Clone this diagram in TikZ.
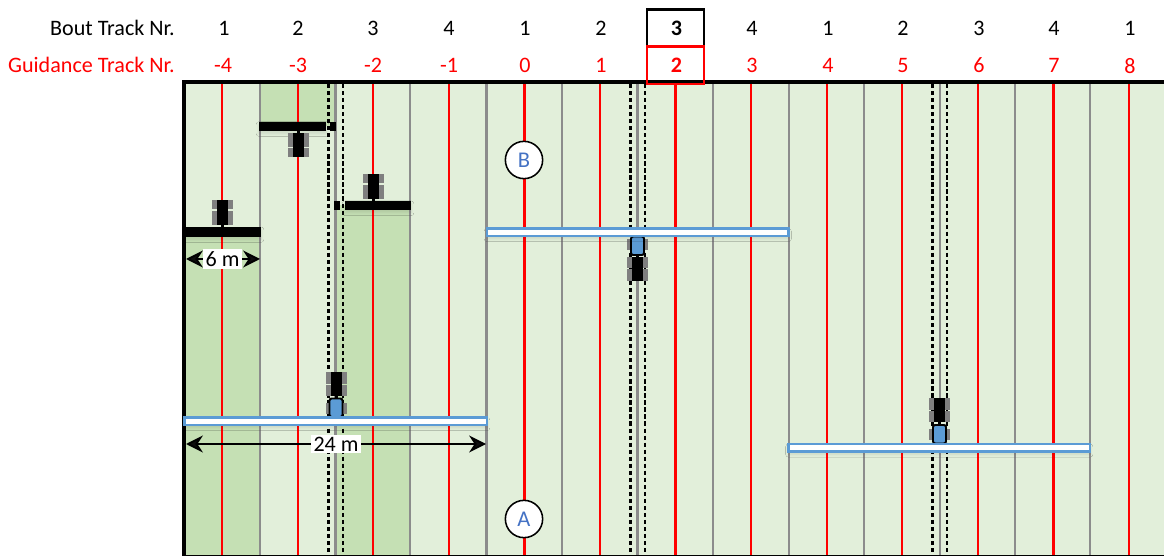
\documentclass[tikz,border=0pt]{standalone}
\usepackage{fontspec}
\setmainfont{Carlito}
\usepackage{tikz}
\usetikzlibrary{arrows.meta}
\usetikzlibrary{shadows.blur}

\definecolor{fieldlight}{HTML}{E2EFDA}
\definecolor{fielddark}{HTML}{C5E0B4}
\definecolor{boomblue}{HTML}{5B9BD5}
\definecolor{wheelgrey}{HTML}{7F7F7F}
\definecolor{linegrey}{HTML}{8C8C8C}
\definecolor{letterblue}{HTML}{4472C4}

\tikzset{
    boutlabel/.style={font=\fontsize{15.7}{17}\selectfont, text=black, inner sep=0pt},
    guidelabel/.style={font=\fontsize{15.7}{17}\selectfont, text=red, inner sep=0pt},
    boundary/.style={draw=linegrey, line width=1.5pt},
    guideline/.style={draw=red, line width=1.7pt},
    overlap/.style={draw=black, line width=1.9pt, dash pattern=on 3pt off 2pt},
    blackboom/.style={fill=black},
    whiteboom/.style={draw=boomblue, fill=white, line width=1.5pt},
    boomglow/.style={blur shadow={shadow xshift=0pt, shadow yshift=-2pt, shadow blur steps=6, shadow blur radius=2pt, shadow opacity=10}},
    dimarrow/.style={{Stealth[length=12pt,width=12pt]}-{Stealth[length=12pt,width=12pt]}, line width=1.3pt},
    dimlabel/.style={fill=white, inner sep=1.5pt, font=\fontsize{15.7}{17}\selectfont},
    abpoint/.style={draw=black, fill=white, circle, line width=1.1pt, minimum size=26.5pt, inner sep=0pt, text=letterblue, font=\fontsize{16}{18}\selectfont},
    tractor/.pic={
        \fill[black] (-1.5,0) rectangle (1.5,2);
        \fill[wheelgrey] (-10.5,2) rectangle (-5,16);
        \fill[wheelgrey] (5,2) rectangle (10.5,16);
        \fill[wheelgrey] (-10.5,17.5) rectangle (-5,26.5);
        \fill[wheelgrey] (5,17.5) rectangle (10.5,26.5);
        \fill[black] (-5.5,2) rectangle (5.5,26.5);
    },
    bluetractor/.pic={
        \fill[wheelgrey] (-10.5,3) rectangle (10.5,14);
        \filldraw[draw=black, fill=boomblue, line width=1.4pt, rounded corners=1.5pt] (-6.5,0) rectangle (6.5,18.5);
        \fill[black] (-1.5,18.5) rectangle (1.5,21);
        \fill[wheelgrey] (-10.5,21) rectangle (-5,32);
        \fill[wheelgrey] (5,21) rectangle (10.5,32);
        \fill[wheelgrey] (-10.5,33) rectangle (-5,45);
        \fill[wheelgrey] (5,33) rectangle (10.5,45);
        \fill[black] (-5.5,21) rectangle (5.5,45);
    },
}

\begin{document}
\begin{tikzpicture}[x=0.025cm, y=-0.025cm]
        \useasboundingbox (0,0) rectangle (1164,556);

        % field and worked strips
        \fill[fieldlight] (184,82) rectangle (1164,556);
        \fill[fielddark] (184,232) rectangle (260,556);
        \fill[fielddark] (260,82) rectangle (335.5,126);
        \fill[fielddark] (335.5,205) rectangle (410,556);

        % track boundaries
        \draw[boundary] (260,82) -- (260,556);
        \draw[boundary] (335.5,82) -- (335.5,556);
        \draw[boundary] (410,82) -- (410,556);
        \draw[boundary] (486.5,82) -- (486.5,556);
        \draw[boundary] (562,82) -- (562,556);
        \draw[boundary] (637.5,82) -- (637.5,556);
        \draw[boundary] (713,82) -- (713,556);
        \draw[boundary] (789,82) -- (789,556);
        \draw[boundary] (864,82) -- (864,556);
        \draw[boundary] (940,82) -- (940,556);
        \draw[boundary] (1015,82) -- (1015,556);
        \draw[boundary] (1090,82) -- (1090,556);

        % guidance tracks
        \draw[guideline] (222.3,82) -- (222.3,556);
        \draw[guideline] (297.8,82) -- (297.8,556);
        \draw[guideline] (373.2,82) -- (373.2,556);
        \draw[guideline] (448.8,82) -- (448.8,556);
        \draw[guideline] (524.3,82) -- (524.3,556);
        \draw[guideline] (600,82) -- (600,556);
        \draw[guideline] (675.5,82) -- (675.5,556);
        \draw[guideline] (751,82) -- (751,556);
        \draw[guideline] (826.7,82) -- (826.7,556);
        \draw[guideline] (902.2,82) -- (902.2,556);
        \draw[guideline] (977.8,82) -- (977.8,556);
        \draw[guideline] (1053.3,82) -- (1053.3,556);
        \draw[guideline] (1129,82) -- (1129,556);

        % overlap pairs
        \draw[overlap] (328.3,84) -- (328.3,556);
        \draw[overlap] (343,84) -- (343,556);
        \draw[overlap] (630.3,84) -- (630.3,556);
        \draw[overlap] (645,84) -- (645,556);
        \draw[overlap] (932.3,84) -- (932.3,556);
        \draw[overlap] (947,84) -- (947,556);

        % field border
        \draw[black, line width=2.2pt] (184,556) -- (184,82) -- (1164,82);
        \draw[black, line width=0.7pt] (184,555.5) -- (1164,555.5);

        % header
        \node[boutlabel, anchor=east] (boutTitle) at (175,28) {Bout Track Nr.};
        \node[guidelabel, anchor=east] (guideTitle) at (175,65) {Guidance Track Nr.};
        \node[boutlabel] (bout1) at (224,28) {1};
        \node[boutlabel] (bout2) at (298,28) {2};
        \node[boutlabel] (bout3) at (373,28) {3};
        \node[boutlabel] (bout4) at (449,28) {4};
        \node[boutlabel] (bout5) at (525,28) {1};
        \node[boutlabel] (bout6) at (601,28) {2};
        \node[boutlabel, font=\fontsize{15.7}{17}\selectfont\bfseries] (bout7) at (676.5,28) {3};
        \node[boutlabel] (bout8) at (752,28) {4};
        \node[boutlabel] (bout9) at (828,28) {1};
        \node[boutlabel] (bout10) at (903,28) {2};
        \node[boutlabel] (bout11) at (979,28) {3};
        \node[boutlabel] (bout12) at (1054,28) {4};
        \node[boutlabel] (bout13) at (1130,28) {1};
        \node[guidelabel] (guide1) at (223,65) {-4};
        \node[guidelabel] (guide2) at (298,65) {-3};
        \node[guidelabel] (guide3) at (373,65) {-2};
        \node[guidelabel] (guide4) at (449,65) {-1};
        \node[guidelabel] (guide5) at (525,65) {0};
        \node[guidelabel] (guide6) at (601,65) {1};
        \node[guidelabel, font=\fontsize{15.7}{17}\selectfont\bfseries] (guide7) at (676.5,65) {2};
        \node[guidelabel] (guide8) at (752,65) {3};
        \node[guidelabel] (guide9) at (828,65) {4};
        \node[guidelabel] (guide10) at (903,65) {5};
        \node[guidelabel] (guide11) at (979,65) {6};
        \node[guidelabel] (guide12) at (1054,65) {7};
        \node[guidelabel] (guide13) at (1130,66.5) {8};
        \draw[black, line width=1.5pt] (647,9.5) rectangle (704,46);
        \draw[red, line width=1.6pt] (647,46.5) rectangle (704,84);

        % black booms with their tractors
        \fill[blackboom, boomglow] (184,227) rectangle (261,236.7);
        \pic at (222.5,227) [yscale=-1] {tractor};
        \fill[blackboom, boomglow] (259,121.7) rectangle (326,130.7);
        \fill[blackboom] (329.5,121.7) rectangle (336,130.7);
        \pic at (298,130.7) {tractor};
        \fill[blackboom, boomglow] (345,201) rectangle (411,210);
        \fill[blackboom] (334,201) rectangle (340,210);
        \pic at (373,201) [yscale=-1] {tractor};

        % white booms with their tractors
        \pic at (637.5,236.5) {bluetractor};
        \draw[whiteboom, boomglow] (487,228.5) rectangle (788.5,236);
        \pic at (336,417) [yscale=-1] {bluetractor};
        \draw[whiteboom, boomglow] (184.5,417.5) rectangle (487,425);
        \pic at (939.5,443.5) [yscale=-1] {bluetractor};
        \draw[whiteboom, boomglow] (788.5,444) rectangle (1090,451.5);

        % widths
        \coordinate (sixLeft) at (186,259);
        \coordinate (sixRight) at (260,259);
        \coordinate (wideLeft) at (186,444);
        \coordinate (wideRight) at (486,444);
        \draw[dimarrow] (sixLeft) -- (sixRight);
        \draw[dimarrow] (wideLeft) -- (wideRight);
        \node[dimlabel] (sixLabel) at (222.5,259) {6 m};
        \node[dimlabel] (wideLabel) at (336,444) {24 m};

        % AB line points
        \node[abpoint] (pointB) at (524,160) {B};
        \node[abpoint] (pointA) at (524,519) {A};
\end{tikzpicture}
\end{document}
